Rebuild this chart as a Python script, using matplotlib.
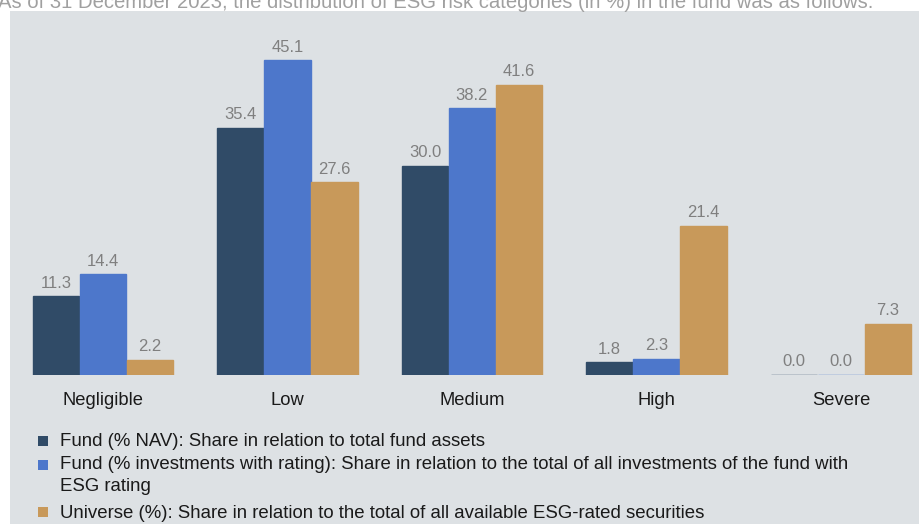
import matplotlib
matplotlib.use("Agg")
import matplotlib.pyplot as plt
import numpy as np
from matplotlib.patches import Rectangle

plt.rcParams["font.family"] = ["Liberation Sans", "DejaVu Sans"]

categories = ["Negligible", "Low", "Medium", "High", "Severe"]
fund_nav = [11.3, 35.4, 30.0, 1.8, 0.0]
fund_rated = [14.4, 45.1, 38.2, 2.3, 0.0]
universe = [2.2, 27.6, 41.6, 21.4, 7.3]

series_labels = [
    "Fund (% NAV): Share in relation to total fund assets",
    "Fund (% investments with rating): Share in relation to the total of all investments of the fund with\nESG rating",
    "Universe (%): Share in relation to the total of all available ESG-rated securities",
]
colors = ["#304b67", "#4d77cb", "#c8995a"]
panel_bg = "#dde1e4"
W, H = 920, 524

fig = plt.figure(figsize=(W / 100, H / 100), dpi=100)
fig.patches.append(Rectangle((10 / W, 0), 1, (H - 11) / H, transform=fig.transFigure,
                             facecolor=panel_bg, edgecolor="none", zorder=-5))
fig.text(-2 / W, 1 - 8 / H,
         "As of 31 December 2023, the distribution of ESG risk categories (in %) in the fund was as follows:",
         color="#a0a0a0", fontsize=14.55, va="baseline", ha="left")

# axes in pixel terms: baseline at y=375, top at y=14
ax = fig.add_axes([10 / W, (H - 375) / H, (W - 10) / W, (375 - 14) / H])
ax.set_zorder(2)
ax.set_facecolor("none")
x = np.arange(len(categories))
width = 0.25
px_per_unit = 184.5
ax.set_xlim(-93 / px_per_unit, 4 + 79 / px_per_unit)
ax.set_ylim(0, 361 / 6.98)

for i, (vals, c) in enumerate(zip([fund_nav, fund_rated, universe], colors)):
    pos = x + (i - 1) * (width + 0.005)
    bars = ax.bar(pos, vals, width, color=c, edgecolor=c, linewidth=1.0, zorder=2)
    for b, v in zip(bars, vals):
        ax.annotate(f"{v:.1f}", (b.get_x() + b.get_width() / 2, v), xytext=(0, 4),
                    textcoords="offset points", ha="center", va="bottom",
                    color="#7f7f7f", fontsize=12)

ax.set_xticks(x)
ax.set_xticklabels(categories, fontsize=13.2, color="#1a1a1a")
ax.tick_params(axis="x", length=0, pad=12)
ax.set_yticks([])
for s in ax.spines.values():
    s.set_visible(False)

# legend drawn manually to keep square markers aligned with the first text line
rows_y = [442, 466, 513]
for lbl, c, yy in zip(series_labels, colors, rows_y):
    fig.patches.append(Rectangle((38 / W, 1 - (yy + 4) / H), 10 / W, 10 / H,
                                 transform=fig.transFigure, facecolor=c, edgecolor="none"))
    fig.text(60 / W, 1 - yy / H, lbl, fontsize=13.4, color="#1a1a1a",
             va="top" if "\n" in lbl else "center", ha="left", linespacing=1.42)

fig.texts[-2].set_position((60 / W, 1 - 456 / H))
fig.savefig("out.png", dpi=100)
